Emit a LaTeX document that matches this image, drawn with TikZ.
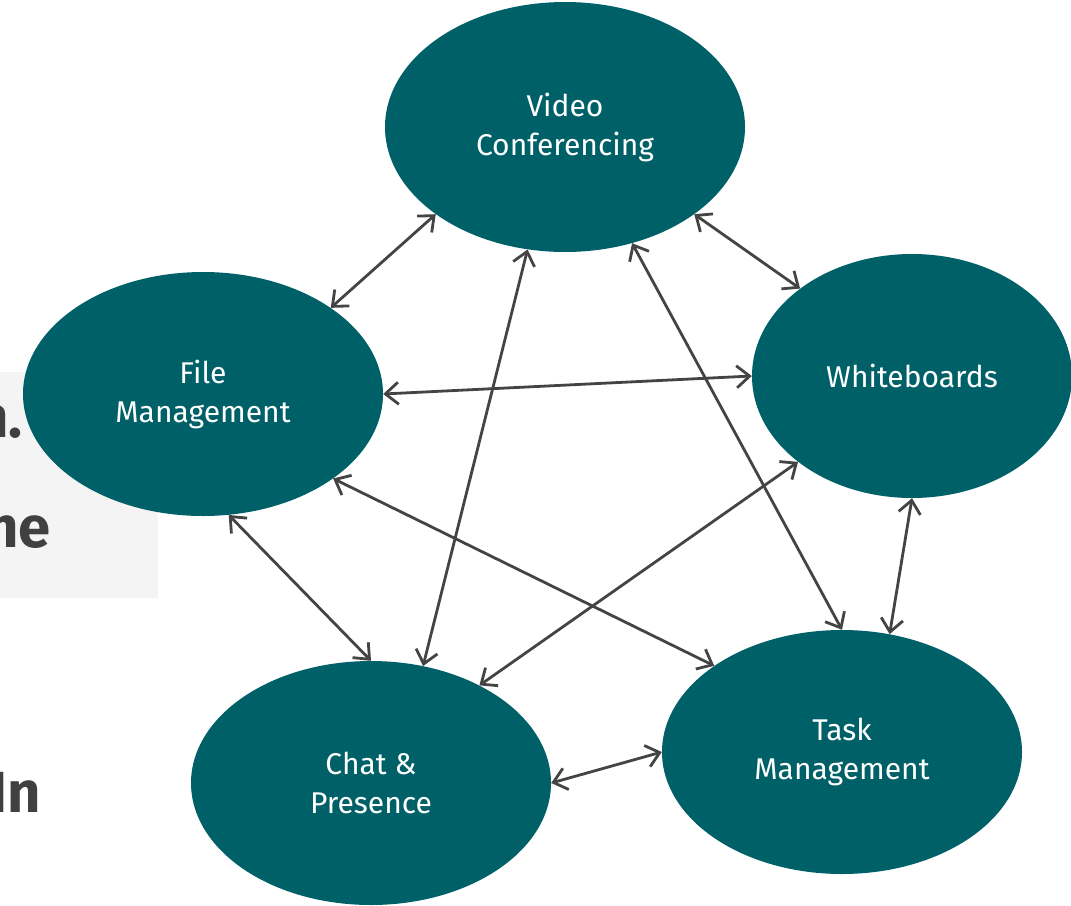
\documentclass[tikz,border=0pt]{standalone}
\usepackage{fontspec}
\setmainfont{Fira Sans}
\usetikzlibrary{shapes.geometric,arrows.meta}
\definecolor{teal}{RGB}{0,96,104}
\definecolor{linkgray}{RGB}{68,68,68}
\definecolor{textgray}{RGB}{64,64,64}
\definecolor{panel}{RGB}{244,244,244}
\tikzset{
  bubble/.style={ellipse, fill=teal, draw=none, inner sep=0pt,
    minimum width=360pt, minimum height=244pt, text=white, align=center,
    font=\fontsize{30}{39}\selectfont},
  link/.style={draw=linkgray, line width=2.8pt,
    {Straight Barb[length=13pt,width=22pt]}-{Straight Barb[length=13pt,width=22pt]}},
  bigword/.style={anchor=base east, inner sep=0pt, text=textgray,
    font=\fontsize{58}{60}\selectfont\bfseries}
}
\begin{document}
\begin{tikzpicture}[x=1pt,y=-1pt]
\useasboundingbox (0,0) rectangle (1071,905);
\fill[panel] (0,372) rectangle (158,598);
\node[bigword] (t1) at (23,437) {n.};
\node[bigword] (t2) at (51,547) {he};
\node[bigword] (t3) at (41,812) {In};

\node[bubble, minimum height=250pt] (v) at (565,127) {Video\\Conferencing};
\node[bubble] (f) at (203,394) {File\\Management};
\node[bubble, minimum width=320pt] (w) at (912,376) {Whiteboards};
\node[bubble] (c) at (371,783) {Chat \&\\Presence};
\node[bubble] (t) at (842,752) {Task\\Management};

\draw[link] (v.214.6) -- (f.34.1);
\draw[link] (v.-34.3) -- (w.142.7);
\draw[link] (v.-107.7) -- (c.66.8);
\draw[link] (v.-60.9) -- (t.90.9);
\draw[link] (f.0) -- (w.180.5);
\draw[link] (f.-78.5) -- (c.90);
\draw[link] (f.-33.8) -- (t.146.1);
\draw[link] (w.217.7) -- (c.42.1);
\draw[link] (w.-90.5) -- (t.68.5);
\draw[link] (c.0) -- (t.180);
\end{tikzpicture}
\end{document}
